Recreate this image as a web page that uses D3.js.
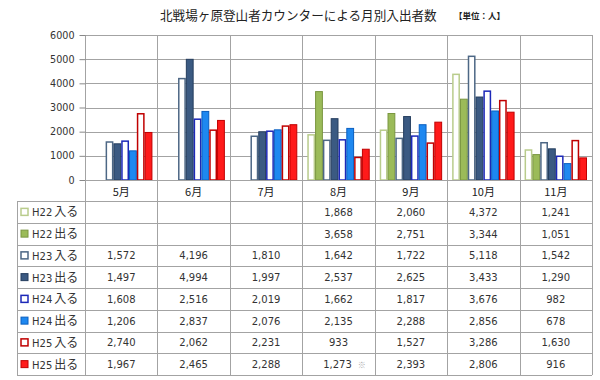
<!DOCTYPE html>
<html>
<head>
<meta charset="utf-8">
<script src="https://cdn.jsdelivr.net/npm/d3@7"></script>
<style>
  html, body { margin: 0; padding: 0; background: #fff; }
  svg { display: block; }
</style>
</head>
<body>
<svg id="chart" width="600" height="380"></svg>
<script>
// ---- data ----
const months = ["5月", "6月", "7月", "8月", "9月", "10月", "11月"];
const seriesNames = ["H22 入る", "H22 出る", "H23 入る", "H23 出る", "H24 入る", "H24 出る", "H25 入る", "H25 出る"];
const h22In  = [null, null, null, 1868, 2060, 4372, 1241];
const h22Out = [null, null, null, 3658, 2751, 3344, 1051];
const h23In  = [1572, 4196, 1810, 1642, 1722, 5118, 1542];
const h23Out = [1497, 4994, 1997, 2537, 2625, 3433, 1290];
const h24In  = [1608, 2516, 2019, 1662, 1817, 3676, 982];
const h24Out = [1206, 2837, 2076, 2135, 2288, 2856, 678];
const h25In  = [2740, 2062, 2231, 933, 1527, 3286, 1630];
const h25Out = [1967, 2465, 2288, 1273, 2393, 2806, 916];
const yTicks = [0, 1000, 2000, 3000, 4000, 5000, 6000];
const notes = [["H25 出る", "8月", "※"]];
const titleText = "北戦場ヶ原登山者カウンターによる月別入出者数";
const unitText = "【単位：人】";

const seriesValues = [h22In, h22Out, h23In, h23Out, h24In, h24Out, h25In, h25Out];
const styles = [
  { fill: "#ffffff", stroke: "#b9cc8c", sw: 1.5 },
  { fill: "#9bbb59", stroke: "#7a9640", sw: 1 },
  { fill: "#ffffff", stroke: "#4d6785", sw: 1.5 },
  { fill: "#3b5a82", stroke: "#243d5e", sw: 1 },
  { fill: "#ffffff", stroke: "#1c28b8", sw: 1.5 },
  { fill: "#1e88f0", stroke: "#0a5fc0", sw: 1 },
  { fill: "#ffffff", stroke: "#c00000", sw: 1.5 },
  { fill: "#ff1a1a", stroke: "#c00000", sw: 1 }
];

const svg = d3.select("#chart");
const plotL = 85, plotR = 592, plotT = 35, plotB = 180;
const tableL = 17, tableT = 201, tableB = 375;
const gridColor = "#a3a3a3";
const numFont = "'DejaVu Sans', Verdana, sans-serif";
const cjkFont = "'Noto Sans CJK JP', sans-serif";

const x0 = d3.scaleBand().domain(months).range([plotL, plotR]).padding(0);
const x1 = d3.scaleBand().domain(seriesNames).range([5, x0.bandwidth() - 5]).padding(0);
const y = d3.scaleLinear().domain([0, 6000]).range([plotB, plotT]);
const rowY = d3.scaleBand().domain(seriesNames).range([tableT, tableB]);

// title
const title = svg.append("text").attr("x", 160).attr("y", 20)
  .attr("font-family", cjkFont).attr("font-size", 12.6).attr("fill", "#222")
  .text(titleText);
svg.append("text").attr("x", 454).attr("y", 19)
  .attr("font-family", cjkFont).attr("font-size", 8.5).attr("font-weight", "bold").attr("fill", "#222")
  .text(unitText);

// horizontal gridlines
svg.append("g").selectAll("line").data(yTicks).join("line")
  .attr("x1", plotL).attr("x2", plotR)
  .attr("y1", d => Math.round(y(d)) + 0.5).attr("y2", d => Math.round(y(d)) + 0.5)
  .attr("stroke", gridColor).attr("stroke-width", 1);

// vertical category lines (plot + table)
const bounds = months.map(m => x0(m)).concat([x0(months[months.length - 1]) + x0.bandwidth()]);
svg.append("g").selectAll("line").data(bounds).join("line")
  .attr("x1", d => Math.round(d) + 0.5).attr("x2", d => Math.round(d) + 0.5)
  .attr("y1", plotT).attr("y2", tableB)
  .attr("stroke", gridColor).attr("stroke-width", 1);

// y axis
const yAxis = svg.append("g").attr("transform", `translate(${plotL + 0.5},0)`)
  .call(d3.axisLeft(y).tickValues(yTicks).tickSize(6).tickPadding(5).tickFormat(d3.format("d")));
yAxis.select(".domain").remove();
yAxis.selectAll(".tick line").attr("stroke", "#888");
yAxis.selectAll("text").attr("font-family", numFont).attr("font-size", 9.6).attr("fill", "#333");

// bars
const groups = svg.append("g").selectAll("g").data(months).join("g")
  .attr("transform", m => `translate(${x0(m)},0)`);
groups.selectAll("rect")
  .data((m, mi) => seriesNames.map((s, si) => ({ s, si, v: seriesValues[si][mi] })).filter(d => d.v != null))
  .join("rect")
  .attr("x", d => x1(d.s) + styles[d.si].sw / 2)
  .attr("width", d => x1.bandwidth() - styles[d.si].sw)
  .attr("y", d => y(d.v))
  .attr("height", d => plotB - y(d.v))
  .attr("fill", d => styles[d.si].fill)
  .attr("stroke", d => styles[d.si].stroke)
  .attr("stroke-width", d => styles[d.si].sw);

// x axis baseline
svg.append("line").attr("x1", plotL).attr("x2", plotR)
  .attr("y1", plotB + 0.5).attr("y2", plotB + 0.5).attr("stroke", gridColor);

// month labels
svg.append("g").selectAll("text").data(months).join("text")
  .attr("x", m => x0(m) + x0.bandwidth() / 2).attr("y", 196)
  .attr("text-anchor", "middle").attr("font-family", cjkFont).attr("font-size", 11).attr("fill", "#222")
  .text(m => m);

// table horizontal lines
const rowLines = seriesNames.map(s => rowY(s)).concat([tableB]);
svg.append("g").selectAll("line").data(rowLines).join("line")
  .attr("x1", tableL).attr("x2", plotR)
  .attr("y1", d => Math.round(d) + 0.5).attr("y2", d => Math.round(d) + 0.5)
  .attr("stroke", gridColor);
svg.append("line").attr("x1", tableL + 0.5).attr("x2", tableL + 0.5)
  .attr("y1", tableT).attr("y2", tableB).attr("stroke", gridColor);

// legend cells
const leg = svg.append("g").selectAll("g").data(seriesNames).join("g")
  .attr("transform", s => `translate(0,${rowY(s) + rowY.bandwidth() / 2})`);
leg.append("rect")
  .attr("x", 21).attr("y", -3.5).attr("width", 7).attr("height", 7)
  .attr("fill", (s, i) => styles[i].fill)
  .attr("stroke", (s, i) => styles[i].stroke)
  .attr("stroke-width", (s, i) => styles[i].sw);
const legText = leg.append("text").attr("x", 32).attr("y", 4.5).attr("fill", "#333");
legText.append("tspan").attr("font-family", numFont).attr("font-size", 10).text(s => s.split(" ")[0]);
legText.append("tspan").attr("font-family", cjkFont).attr("font-size", 12).attr("dx", 2).text(s => s.split(" ")[1]);

// table values
const fmt = d3.format(",");
const cells = [];
seriesNames.forEach((s, si) => months.forEach((m, mi) => {
  const v = seriesValues[si][mi];
  if (v != null) {
    const note = notes.find(n => n[0] === s && n[1] === m);
    cells.push({ s, m, v, note: note ? note[2] : null });
  }
}));
const cellText = svg.append("g").selectAll("text").data(cells).join("text")
  .attr("x", d => x0(d.m) + x0.bandwidth() / 2 + (d.note ? 6 : 0))
  .attr("y", d => rowY(d.s) + rowY.bandwidth() / 2 + 4)
  .attr("text-anchor", "middle").attr("fill", "#333");
cellText.append("tspan").attr("font-family", numFont).attr("font-size", 10).text(d => fmt(d.v));
cellText.filter(d => d.note).append("tspan").attr("dx", 6)
  .attr("font-family", cjkFont).attr("font-size", 8).attr("fill", "#aaa").text(d => d.note);
</script>
</body>
</html>
